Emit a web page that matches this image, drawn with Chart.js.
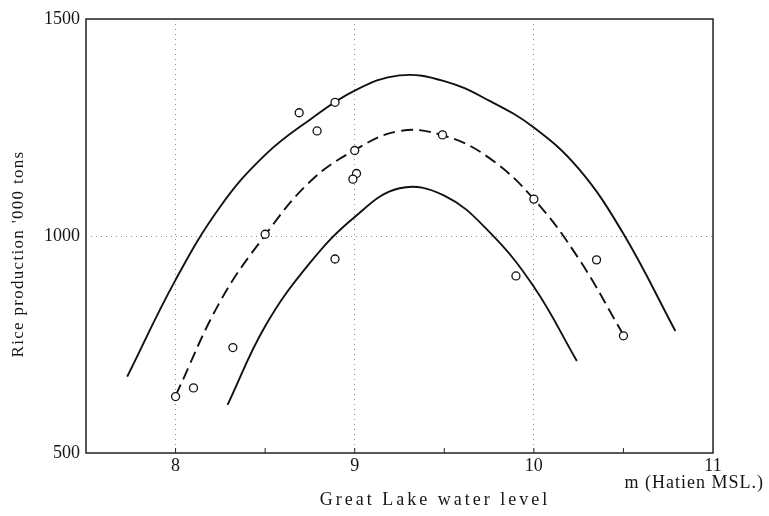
<!DOCTYPE html>
<html>
<head>
<meta charset="utf-8">
<script src="https://cdn.jsdelivr.net/npm/chart.js@4/dist/chart.umd.min.js"></script>
<style>
  html, body { margin: 0; padding: 0; background: #fff; }
  #wrap { width: 769px; height: 516px; }
</style>
</head>
<body>
<div id="wrap"><canvas id="c" width="769" height="516"></canvas></div>
<script>
// Observed years: Great Lake water level (m) against rice production ('000 tons)
const obsLevel = [8.0, 8.1, 8.32, 8.5, 8.69, 8.79, 8.89, 8.89, 9.0, 9.01, 8.99, 9.49, 9.9, 10.0, 10.35, 10.5];
const obsRice  = [630, 650, 743, 1004, 1284, 1242, 1308, 947, 1197, 1144, 1131, 1233, 908, 1085, 945, 770];

// Upper envelope curve
const upperLevel = [7.73, 8.0, 8.25, 8.5, 8.75, 9.0, 9.25, 9.5, 9.75, 10.0, 10.25, 10.5, 10.79];
const upperRice  = [676, 899, 1068, 1187, 1268, 1335, 1370, 1357, 1312, 1250, 1155, 1005, 781];

// Mean curve (dashed)
const meanLevel = [8.0, 8.25, 8.5, 8.75, 9.0, 9.25, 9.5, 9.75, 10.0, 10.25, 10.5];
const meanRice  = [632, 850, 1002, 1125, 1198, 1242, 1231, 1180, 1085, 948, 772];

// Lower envelope curve
const lowerLevel = [8.29, 8.5, 8.75, 9.0, 9.25, 9.5, 9.75, 10.0, 10.24];
const lowerRice  = [611, 792, 938, 1044, 1110, 1093, 1010, 883, 712];

// Axis range and labelled ticks
const xMin = 7.5, xMax = 11, xStep = 0.5;
const xLabelled = [8, 9, 10, 11];
const xGrid = [8, 9, 10];
const yMin = 500, yMax = 1500, yStep = 500;
const yGrid = [1000];

const xTitle = 'Great Lake water level';
const xUnit = 'm (Hatien MSL.)';
const yTitle = "Rice production '000 tons";

const pairs = (xs, ys) => xs.map((x, i) => ({ x: x, y: ys[i] }));

const SERIF = "'Liberation Serif', 'DejaVu Serif', serif";
const INK = '#151515';

const framePlugin = {
  id: 'frameAndTitles',
  afterDraw(chart) {
    const { ctx, chartArea: a, scales } = chart;
    ctx.save();
    // box round the plot
    ctx.strokeStyle = '#222';
    ctx.lineWidth = 1.5;
    ctx.setLineDash([]);
    ctx.strokeRect(a.left, a.top, a.right - a.left, a.bottom - a.top);
    // short inner tick marks along the bottom axis
    ctx.lineWidth = 1;
    for (let v = xMin + xStep; v < xMax; v += xStep) {
      const px = scales.x.getPixelForValue(v);
      ctx.beginPath();
      ctx.moveTo(px, a.bottom);
      ctx.lineTo(px, a.bottom - 5);
      ctx.stroke();
    }
    // axis titles
    ctx.fillStyle = INK;
    ctx.textBaseline = 'middle';
    ctx.textAlign = 'center';
    ctx.font = '18px ' + SERIF;
    ctx.letterSpacing = '3px';
    ctx.fillText(xTitle, 435, 500);
    ctx.letterSpacing = '1px';
    ctx.textAlign = 'right';
    ctx.fillText(xUnit, 764, 483);
    ctx.translate(19, 254);
    ctx.rotate(-Math.PI / 2);
    ctx.textAlign = 'center';
    ctx.font = '17px ' + SERIF;
    ctx.letterSpacing = '1.3px';
    ctx.fillText(yTitle, 0, 0);
    ctx.restore();
  }
};

const curveStyle = {
  showLine: true,
  borderColor: '#111',
  borderWidth: 1.9,
  pointRadius: 0,
  tension: 0.4,
  order: 1
};

new Chart(document.getElementById('c'), {
  type: 'scatter',
  data: {
    datasets: [
      {
        label: 'Observed',
        data: pairs(obsLevel, obsRice),
        pointStyle: 'circle',
        pointRadius: 4,
        pointBackgroundColor: '#fff',
        pointBorderColor: '#111',
        pointBorderWidth: 1.3,
        showLine: false,
        order: 0
      },
      Object.assign({ label: 'Upper', data: pairs(upperLevel, upperRice) }, curveStyle),
      Object.assign({ label: 'Mean', data: pairs(meanLevel, meanRice), borderDash: [12, 6] }, curveStyle),
      Object.assign({ label: 'Lower', data: pairs(lowerLevel, lowerRice) }, curveStyle)
    ]
  },
  options: {
    responsive: false,
    animation: false,
    devicePixelRatio: 1,
    layout: { padding: { top: 19, right: 56, left: 0, bottom: 0 } },
    plugins: {
      legend: { display: false },
      tooltip: { enabled: false }
    },
    scales: {
      x: {
        type: 'linear',
        min: xMin,
        max: xMax,
        afterFit(s) { s.height = 63; },
        ticks: {
          stepSize: xStep,
          autoSkip: false,
          maxRotation: 0,
          padding: 2,
          color: INK,
          font: { family: SERIF, size: 18 },
          callback: v => (xLabelled.includes(v) ? String(v) : '')
        },
        grid: {
          drawTicks: false,
          lineWidth: 1,
          color: c => (c.tick && xGrid.includes(c.tick.value) ? '#8c8c8c' : 'rgba(0,0,0,0)')
        },
        border: { display: false, dash: [1, 4] }
      },
      y: {
        type: 'linear',
        min: yMin,
        max: yMax,
        afterFit(s) { s.width = 86; },
        ticks: {
          stepSize: yStep,
          padding: 6,
          color: INK,
          font: { family: SERIF, size: 18 },
          callback: v => String(v)
        },
        grid: {
          drawTicks: false,
          lineWidth: 1,
          color: c => (c.tick && yGrid.includes(c.tick.value) ? '#8c8c8c' : 'rgba(0,0,0,0)')
        },
        border: { display: false, dash: [1, 4] }
      }
    }
  },
  plugins: [framePlugin]
});
</script>
</body>
</html>
